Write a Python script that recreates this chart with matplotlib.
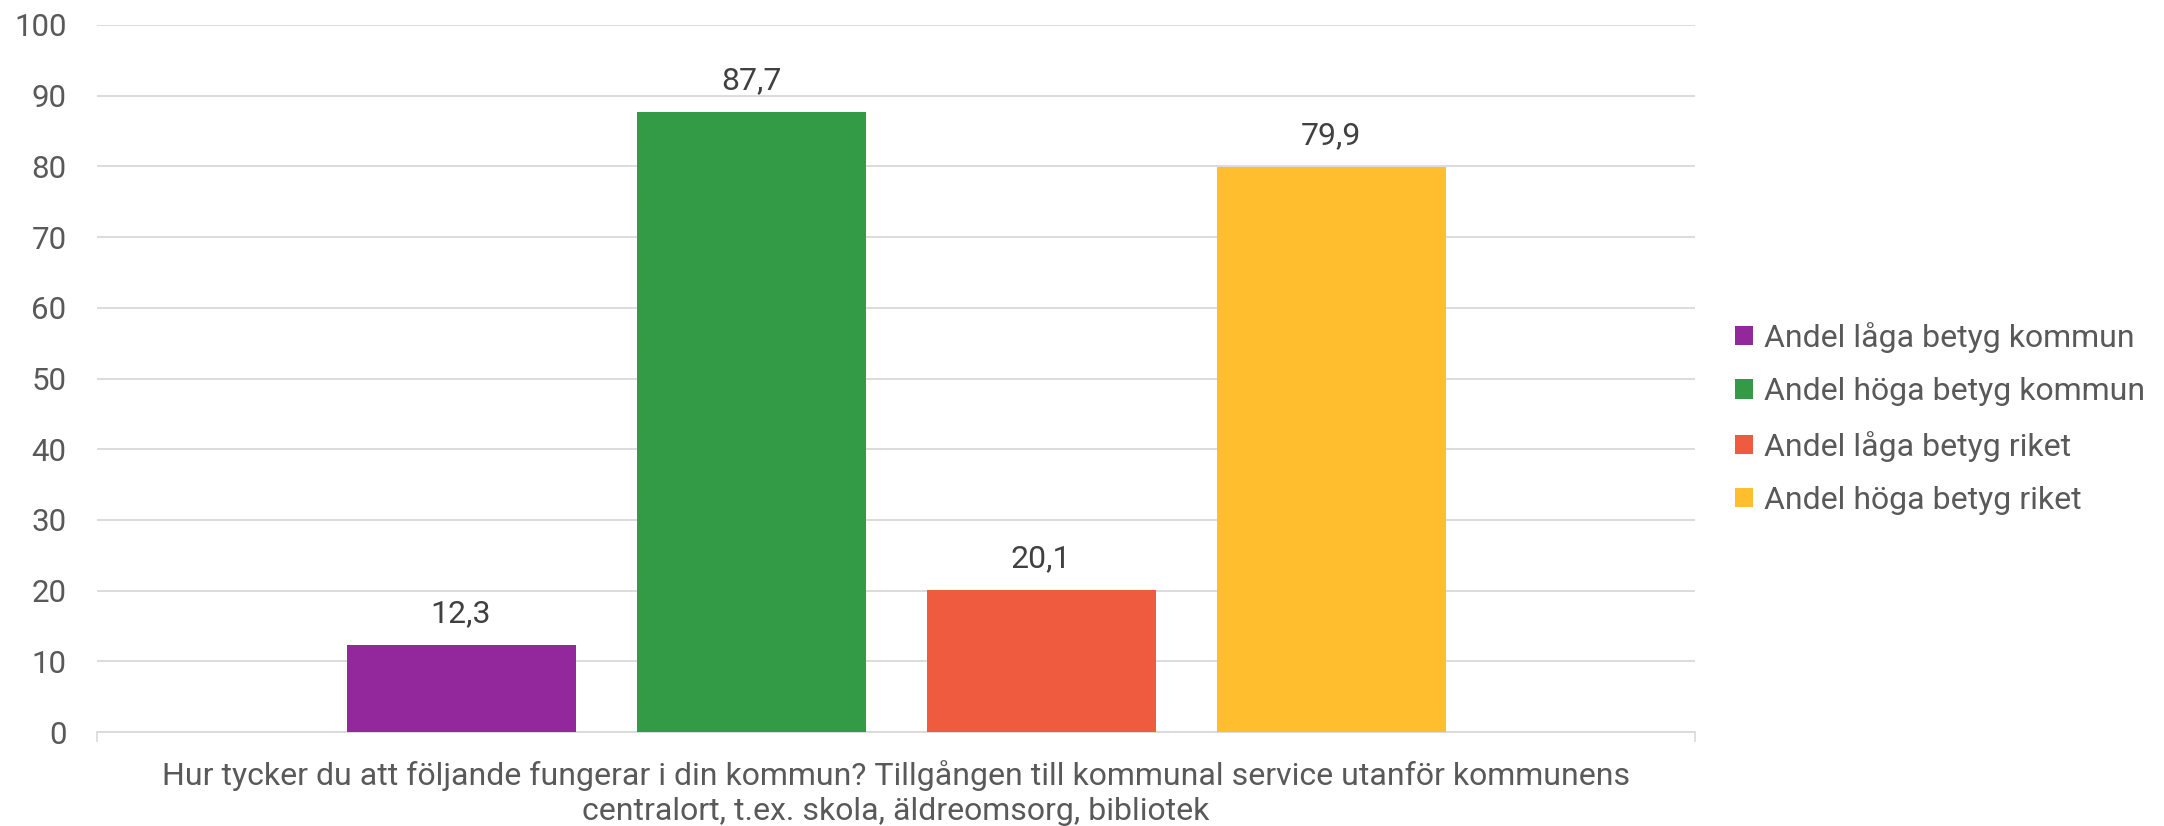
import matplotlib
matplotlib.use("Agg")
import matplotlib.pyplot as plt
from matplotlib.patches import Patch

series = [
    "Andel låga betyg kommun",
    "Andel höga betyg kommun",
    "Andel låga betyg riket",
    "Andel höga betyg riket",
]
values = [12.3, 87.7, 20.1, 79.9]
colors = ["#92289b", "#339b45", "#ef5b3e", "#febe2e"]
category = ("Hur tycker du att följande fungerar i din kommun? Tillgången till kommunal service utanför kommunens\n"
            "centralort, t.ex. skola, äldreomsorg, bibliotek")
y_ticks = list(range(0, 101, 10))

plt.rcParams["font.family"] = ["Roboto", "DejaVu Sans"]

W, H = 2164, 826
fig = plt.figure(figsize=(W / 100, H / 100), dpi=100)
left, right, top, bottom = 97, 1695, 25, 732
ax = fig.add_axes([left / W, 1 - bottom / H, (right - left) / W, (bottom - top) / H])

# one category spanning [-0.5, 0.5]
span = right - left
bar_w = 229 / span
gap = 61 / span
group = len(values) * bar_w + (len(values) - 1) * gap
start = -group / 2 + bar_w / 2
for i, (name, v, c) in enumerate(zip(series, values, colors)):
    x = start + i * (bar_w + gap)
    ax.bar(x, v, width=bar_w, color=c, zorder=3, label=name)
    ax.annotate(f"{v:.1f}".replace(".", ","), (x, v), xytext=(0, 12),
                textcoords="offset points", ha="center", va="bottom",
                fontsize=23, color="#404040")

ax.set_xlim(-0.5, 0.5)
ax.set_ylim(0, 100)
ax.set_yticks(y_ticks)
ax.set_yticklabels([str(t) for t in y_ticks])
ax.tick_params(axis="y", length=0, pad=22, labelsize=22.5, labelcolor="#595959")
ax.set_xticks([-0.5, 0.5])
ax.set_xticklabels(["", ""])
ax.tick_params(axis="x", length=7, width=1.2, color="#d9d9d9")
ax.grid(axis="y", color="#d9d9d9", linewidth=1.3, zorder=0)
for s in ["top", "right", "left"]:
    ax.spines[s].set_visible(False)
ax.spines["bottom"].set_color("#d9d9d9")
ax.spines["bottom"].set_linewidth(1.3)

fig.text((left + right) / 2 / W, 1 - 793 / H, category, ha="center", va="center",
         fontsize=23, color="#595959", linespacing=1.26)

handles = [Patch(facecolor=c, label=n) for n, c in zip(series, colors)]
fig.legend(handles=handles, loc="upper left", bbox_to_anchor=(1735 / W, 1 - 322 / H),
           frameon=False, fontsize=23, labelcolor="#595959", handlelength=0.55,
           handleheight=0.55, handletextpad=0.35, labelspacing=0.76, borderpad=0,
           borderaxespad=0)

fig.savefig("out.png", dpi=100)
